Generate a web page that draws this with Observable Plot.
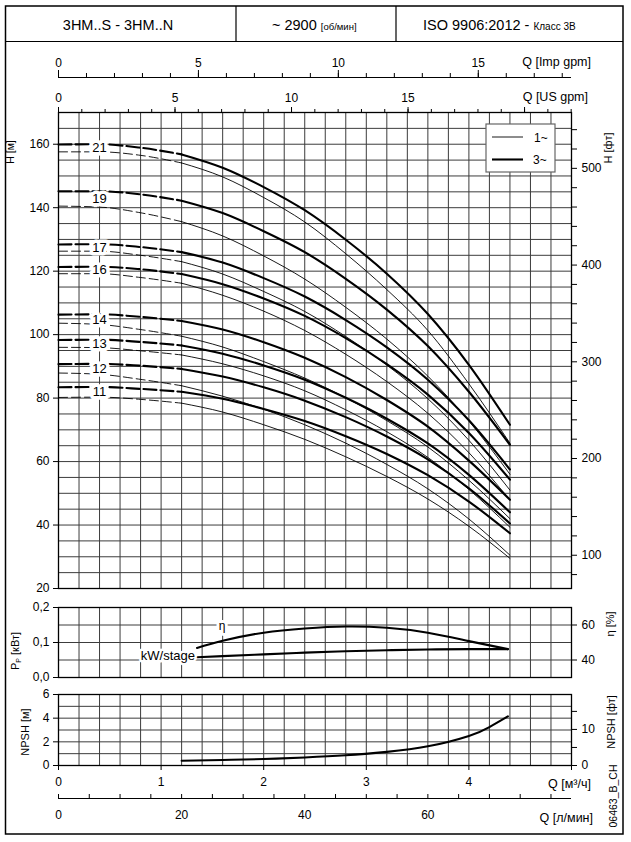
<!DOCTYPE html>
<html><head><meta charset="utf-8">
<script src="https://cdn.jsdelivr.net/npm/d3@7"></script>
<script src="https://cdn.jsdelivr.net/npm/@observablehq/plot@0.6"></script>
<style>
body{margin:0;background:#fff;}
#wrap{position:relative;width:631px;height:842px;background:#fff;}
</style></head><body><div id="wrap"></div>
<script>
// ---------- data ----------
const flowQ = [0, 0.4, 0.8, 1.2, 1.6, 2.0, 2.4, 2.8, 3.2, 3.6, 4.0, 4.4]; // m3/h
const stageCounts = [21, 19, 17, 16, 14, 13, 12, 11];
const head21_3 = [159.9, 160.0, 158.9, 156.8, 152.6, 146.5, 139.2, 129.9, 119.2, 106.5, 90.5, 71.6];
const head21_1 = [157.6, 157.6, 156.5, 154.1, 149.7, 143.2, 135.5, 125.5, 114.2, 101.3, 84.5, 65.8];
const head19_3 = [145.2, 145.2, 144.2, 142.2, 138.3, 132.6, 126.0, 117.6, 107.9, 96.4, 82.0, 65.3];
const head19_1 = [140.5, 140.2, 138.4, 135.6, 131.1, 124.8, 117.5, 108.6, 98.6, 86.9, 72.8, 56.0];
const head17_3 = [128.4, 128.5, 127.6, 126.0, 122.7, 117.8, 112.0, 104.6, 96.0, 85.8, 73.0, 57.5];
const head17_1 = [126.3, 126.3, 125.0, 123.0, 119.1, 113.6, 107.3, 99.4, 90.4, 79.8, 66.7, 51.0];
const head16_3 = [121.3, 121.4, 120.6, 119.1, 115.9, 111.4, 105.9, 98.9, 90.7, 81.1, 69.0, 54.3];
const head16_1 = [119.2, 119.2, 118.0, 116.2, 112.4, 107.4, 101.3, 93.8, 85.2, 75.2, 62.8, 47.9];
const head14_3 = [106.3, 106.4, 105.6, 104.3, 101.6, 97.6, 92.7, 86.6, 79.4, 71.0, 60.3, 48.0];
const head14_1 = [103.6, 103.2, 101.6, 99.5, 96.1, 91.5, 86.3, 80.1, 72.9, 64.6, 54.1, 42.0];
const head13_3 = [98.3, 98.4, 97.7, 96.6, 94.0, 90.3, 85.8, 80.1, 73.5, 65.7, 55.8, 44.0];
const head13_1 = [96.0, 95.9, 94.9, 93.6, 90.8, 87.0, 82.3, 76.3, 69.4, 61.3, 51.2, 39.3];
const head12_3 = [90.7, 90.8, 90.2, 89.2, 86.8, 83.4, 79.2, 74.0, 67.9, 60.7, 51.6, 40.5];
const head12_1 = [87.9, 87.5, 85.9, 83.9, 80.6, 76.5, 71.6, 65.8, 59.1, 51.4, 41.9, 30.5];
const head11_3 = [83.4, 83.5, 82.9, 82.0, 79.8, 76.6, 72.8, 68.0, 62.4, 55.7, 47.4, 37.4];
const head11_1 = [80.2, 80.3, 79.6, 78.4, 75.6, 71.6, 67.0, 61.5, 55.3, 48.2, 39.6, 29.5];
const minFlow = 1.2; // dashed below this flow

const effQ   = [1.35, 1.6, 2.0, 2.4, 2.8, 3.2, 3.6, 4.0, 4.38];
const effPct = [46.9, 51.0, 55.6, 58.0, 59.1, 58.4, 55.6, 50.8, 46.2];
const kwQ    = [1.35, 1.6, 2.0, 2.4, 2.8, 3.2, 3.6, 4.0, 4.38];
const kwStage= [0.058, 0.061, 0.066, 0.071, 0.075, 0.078, 0.080, 0.081, 0.081];
const npshQ  = [1.2, 1.6, 2.0, 2.4, 2.8, 3.2, 3.6, 4.0, 4.2, 4.38];
const npshM  = [0.40, 0.47, 0.55, 0.68, 0.86, 1.15, 1.62, 2.5, 3.25, 4.15];

// tick labels / tick sets
const headTicks = [20, 40, 60, 80, 100, 120, 140, 160];
const headFtTicks = [80,100,120,140,160,180,200,220,240,260,280,300,320,340,360,380,400,420,440,460,480,500,520,540];
const impTicks = [0,1,2,3,4,5,6,7,8,9,10,11,12,13,14,15,16,17,18];
const impMajor = [0, 5, 10, 15];
const usTicks = [0,1,2,3,4,5,6,7,8,9,10,11,12,13,14,15,16,17,18,19,20,21,22];
const usMajor = [0, 5, 10, 15, 20];
const usLabelled = [0, 5, 10, 15];
const lminTicks = [0,5,10,15,20,25,30,35,40,45,50,55,60,65,70,75,80];
const lminLabels = [0, 20, 40, 60];
const m3hTicks = [0, 1, 2, 3, 4, 5];
const m3hLabels = [0, 1, 2, 3, 4];
const powerTicks = [0, 0.1, 0.2];
const etaTicks = [40, 60];
const npshTicks = [0, 2, 4, 6];
const npshFtTicks = [0, 5, 10, 15];
const npshFtLabels = [0, 10];

// unit conversions
const IMP = 0.272765, USG = 0.2271247, LMIN = 0.06, FT = 0.3048;
const etaToP = e => (e - 30) / 200;   // η 30..70 % on the 0..0.2 kW scale

// ---------- tables ----------
const series = [
  [21, head21_3, head21_1], [19, head19_3, head19_1], [17, head17_3, head17_1], [16, head16_3, head16_1],
  [14, head14_3, head14_1], [13, head13_3, head13_1], [12, head12_3, head12_1], [11, head11_3, head11_1]
];
const thick = [], thin = [], stageLabels = [];
for (const [n, h3, h1] of series) {
  flowQ.forEach((q, i) => {
    thick.push({stage: n, q, h: h3[i]});
    thin.push({stage: n, q, h: h1[i]});
  });
  stageLabels.push({label: String(n), q: flowQ[1], h: (h3[1] + h1[1]) / 2});
}
const effRows = effQ.map((q, i) => ({q, p: etaToP(effPct[i])}));
const kwRows = kwQ.map((q, i) => ({q, p: kwStage[i]}));
const npshRows = npshQ.map((q, i) => ({q, m: npshM[i]}));

// ---------- layout ----------
const FONT = '"Liberation Sans", Arial, Helvetica, sans-serif';
const W = 631, ML = 58, MR = 60;
const wrap = document.getElementById("wrap");
function place(svg, top) {
  svg.style.position = "absolute"; svg.style.top = top + "px"; svg.style.left = "0px";
  wrap.appendChild(svg);
}
const style = {fontFamily: FONT, fontSize: "12px", background: "transparent", overflow: "visible", color: "#000"};
const GRID = {stroke: "#3c3c3c", strokeOpacity: 1, strokeWidth: 1};

// Imp gpm axis
place(Plot.plot({
  width: W, height: 40, marginLeft: ML, marginRight: MR, marginTop: 37, marginBottom: 2,
  x: {domain: [0, 5]}, y: {domain: [0, 1], axis: null}, style,
  marks: [
    Plot.ruleY([1], {stroke: "#000", strokeWidth: 1.2}),
    Plot.axisX(impTicks.map(g => g * IMP), {anchor: "top", tickSize: 5, tickFormat: () => "", label: null}),
    Plot.axisX(impMajor.map(g => g * IMP), {anchor: "top", tickSize: 8, tickPadding: 3, label: null,
      tickFormat: d => String(Math.round(d / IMP))})
  ]
}), 40);

// Main H-Q panel
place(Plot.plot({
  width: W, height: 520, marginLeft: ML, marginRight: MR, marginTop: 32, marginBottom: 12,
  x: {domain: [0, 5]}, y: {domain: [20, 170]}, style,
  marks: [
    Plot.gridX(d3.range(0.2, 5, 0.2), GRID),
    Plot.gridY(d3.range(25, 170, 5), GRID),
    Plot.frame({stroke: "#000", strokeWidth: 1.3}),
    Plot.line(thin.filter(d => d.q <= minFlow), {x: "q", y: "h", z: "stage", stroke: "#000", strokeWidth: 0.9, strokeDasharray: "9,4", curve: "monotone-x"}),
    Plot.line(thin.filter(d => d.q >= minFlow), {x: "q", y: "h", z: "stage", stroke: "#000", strokeWidth: 0.9, curve: "monotone-x"}),
    Plot.line(thick.filter(d => d.q <= minFlow), {x: "q", y: "h", z: "stage", stroke: "#000", strokeWidth: 2.1, strokeDasharray: "13,4", curve: "monotone-x"}),
    Plot.line(thick.filter(d => d.q >= minFlow), {x: "q", y: "h", z: "stage", stroke: "#000", strokeWidth: 2.1, curve: "monotone-x"}),
    Plot.text(stageLabels, {x: "q", y: "h", text: "label", fontSize: 13, fill: "#000", stroke: "#fff", strokeWidth: 7, paintOrder: "stroke"}),
    Plot.axisY(headTicks, {anchor: "left", tickSize: 5, tickPadding: 4, label: null}),
    Plot.axisY(headFtTicks.map(f => f * FT), {anchor: "right", tickSize: 5, tickPadding: 5, label: null,
      tickFormat: d => { const f = Math.round(d / FT); return f % 100 === 0 ? String(f) : ""; }}),
    Plot.axisX(usTicks.map(g => g * USG), {anchor: "top", tickSize: 4, tickFormat: () => "", label: null}),
    Plot.axisX(usMajor.map(g => g * USG), {anchor: "top", tickSize: 6, tickPadding: 5, label: null,
      tickFormat: d => { const g = Math.round(d / USG); return usLabelled.includes(g) ? String(g) : ""; }})
  ]
}), 80);

// Power / efficiency panel
place(Plot.plot({
  width: W, height: 88, marginLeft: ML, marginRight: MR, marginTop: 10, marginBottom: 8,
  x: {domain: [0, 5], axis: null}, y: {domain: [0, 0.2]}, style,
  marks: [
    Plot.gridX(d3.range(0.2, 5, 0.2), GRID),
    Plot.gridY([0.05, 0.1, 0.15], GRID),
    Plot.frame({stroke: "#000", strokeWidth: 1.3}),
    Plot.line(effRows, {x: "q", y: "p", stroke: "#000", strokeWidth: 2.1, curve: "natural"}),
    Plot.line(kwRows, {x: "q", y: "p", stroke: "#000", strokeWidth: 2.1, curve: "natural"}),
    Plot.text(effRows.slice(0, 1), {x: "q", y: "p", text: () => "η", dx: 25, dy: -22, fontSize: 12, fill: "#000", stroke: "#fff", strokeWidth: 6, paintOrder: "stroke"}),
    Plot.text(kwRows.slice(0, 1), {x: "q", y: "p", text: () => "kW/stage", textAnchor: "end", dx: -2, dy: -1, fontSize: 13, fill: "#000", stroke: "#fff", strokeWidth: 5, paintOrder: "stroke"}),
    Plot.axisY(powerTicks, {anchor: "left", tickSize: 5, tickPadding: 4, label: null, tickFormat: d => d.toFixed(1).replace(".", ",")}),
    Plot.axisY(etaTicks.map(etaToP), {anchor: "right", tickSize: 5, tickPadding: 5, label: null, tickFormat: d => String(Math.round(d * 200 + 30))})
  ]
}), 597);

// NPSH panel with m3/h axis
place(Plot.plot({
  width: W, height: 104, marginLeft: ML, marginRight: MR, marginTop: 8, marginBottom: 25,
  x: {domain: [0, 5]}, y: {domain: [0, 6]}, style,
  marks: [
    Plot.gridX(d3.range(0.2, 5, 0.2), GRID),
    Plot.gridY([1, 2, 3, 4, 5], GRID),
    Plot.frame({stroke: "#000", strokeWidth: 1.3}),
    Plot.line(npshRows, {x: "q", y: "m", stroke: "#000", strokeWidth: 2.1, curve: "natural"}),
    Plot.axisY(npshTicks, {anchor: "left", tickSize: 5, tickPadding: 4, label: null}),
    Plot.axisY(npshFtTicks.map(f => f * FT), {anchor: "right", tickSize: 5, tickPadding: 5, label: null,
      tickFormat: d => { const f = Math.round(d / FT); return npshFtLabels.includes(f) ? String(f) : ""; }}),
    Plot.axisX(m3hTicks, {anchor: "bottom", tickSize: 5, tickPadding: 7, label: null,
      tickFormat: d => m3hLabels.includes(d) ? String(d) : ""})
  ]
}), 686);

// l/min axis
place(Plot.plot({
  width: W, height: 38, marginLeft: ML, marginRight: MR, marginTop: 8, marginBottom: 29,
  x: {domain: [0, 5]}, y: {domain: [0, 1], axis: null}, style,
  marks: [
    Plot.ruleY([1], {stroke: "#000", strokeWidth: 1.2}),
    Plot.axisX(lminTicks.map(v => v * LMIN), {anchor: "top", tickSize: 5, tickFormat: () => "", label: null}),
    Plot.axisX(lminLabels.map(v => v * LMIN), {anchor: "bottom", tickSize: 0, tickPadding: 11, label: null,
      tickFormat: d => String(Math.round(d / LMIN))})
  ]
}), 790);

// ---------- overlay: frame, header, titles, legend ----------
const ov = d3.select(wrap).append("svg")
  .attr("width", W).attr("height", 842)
  .style("position", "absolute").style("top", "0px").style("left", "0px")
  .style("font-family", FONT).style("pointer-events", "none");
ov.append("rect").attr("x", 5.5).attr("y", 6).attr("width", 617.5).attr("height", 828)
  .attr("fill", "none").attr("stroke", "#000").attr("stroke-width", 1.5);
ov.append("line").attr("x1", 5.5).attr("x2", 623).attr("y1", 41.5).attr("y2", 41.5).attr("stroke", "#000").attr("stroke-width", 1.2);
ov.append("line").attr("x1", 236).attr("x2", 236).attr("y1", 6).attr("y2", 41.5).attr("stroke", "#000").attr("stroke-width", 1.2);
ov.append("line").attr("x1", 396).attr("x2", 396).attr("y1", 6).attr("y2", 41.5).attr("stroke", "#000").attr("stroke-width", 1.2);

function txt(x, y, s, size, anchor = "start", rot = 0) {
  const t = ov.append("text").attr("x", x).attr("y", y).attr("font-size", size)
    .attr("text-anchor", anchor).attr("fill", "#000").text(s);
  if (rot) t.attr("transform", `rotate(${rot},${x},${y})`).attr("dominant-baseline", "middle");
  return t;
}
txt(118, 30, "3HM..S - 3HM..N", 14.5, "middle");
const t2 = ov.append("text").attr("x", 272).attr("y", 30).attr("fill", "#000");
t2.append("tspan").attr("font-size", 14.5).text("~ 2900 ");
t2.append("tspan").attr("font-size", 9.5).text("[об/мин]");
const t3 = ov.append("text").attr("x", 423).attr("y", 30).attr("fill", "#000");
t3.append("tspan").attr("font-size", 14.5).text("ISO 9906:2012 - ");
t3.append("tspan").attr("font-size", 10).text("Класс 3B");

txt(591, 66, "Q [Imp gpm]", 12.5, "end");
txt(588, 101, "Q [US gpm]", 12.5, "end");
txt(591, 788, "Q [м³/ч]", 12.5, "end");
txt(593, 822, "Q [л/мин]", 12.5, "end");
txt(11, 152, "H [м]", 10.5, "middle", -90);
txt(609, 148, "H [фт]", 11, "middle", -90);
const pl = ov.append("text").attr("x", 16).attr("y", 651).attr("font-size", 11).attr("text-anchor", "middle")
  .attr("dominant-baseline", "middle").attr("transform", "rotate(-90,16,651)").attr("fill", "#000");
pl.append("tspan").text("P");
pl.append("tspan").attr("font-size", 7).attr("dy", 3).text("P");
pl.append("tspan").attr("dy", -3).text(" [кВт]");
txt(611, 624, "η [%]", 11, "middle", -90);
txt(26, 732, "NPSH [м]", 11, "middle", -90);
txt(612, 722, "NPSH [фт]", 11, "middle", -90);
txt(614, 796, "06463_B_CH", 10.5, "middle", -90);

// legend
ov.append("rect").attr("x", 486).attr("y", 124).attr("width", 69).attr("height", 48)
  .attr("fill", "#fff").attr("stroke", "#666").attr("stroke-width", 1.2);
ov.append("line").attr("x1", 492).attr("x2", 523).attr("y1", 137).attr("y2", 137).attr("stroke", "#000").attr("stroke-width", 0.9);
ov.append("line").attr("x1", 492).attr("x2", 523).attr("y1", 159.5).attr("y2", 159.5).attr("stroke", "#000").attr("stroke-width", 2.1);
txt(534, 141.5, "1~", 12);
txt(533, 164, "3~", 12);
</script></body></html>
